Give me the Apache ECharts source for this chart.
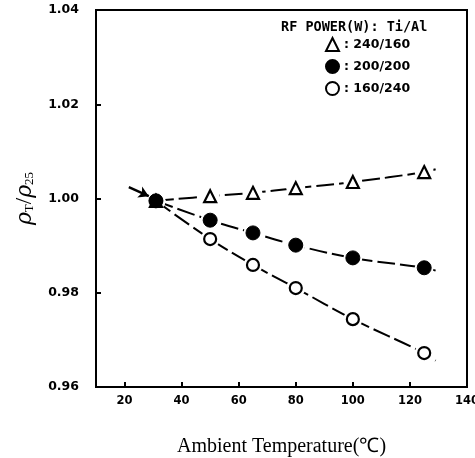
<!DOCTYPE html>
<html><head><meta charset="utf-8">
<script src="https://cdn.jsdelivr.net/npm/echarts@6/dist/echarts.min.js"></script>
<style>html,body{margin:0;padding:0;background:#fff}#c{width:475px;height:458px}</style>
</head><body><div id="c"></div>
<script>
// Data
const temps = [31, 50, 65, 80, 100, 125];
const ti240al160 = [0.9995, 1.0005, 1.0012, 1.0022, 1.0035, 1.0056];
const ti200al200 = [0.9995, 0.9954, 0.9927, 0.9901, 0.9874, 0.9853];
const ti160al240 = [0.9995, 0.9914, 0.9859, 0.9810, 0.9744, 0.9672];
const curveEndT = 129;
const curveEnd = [1.0062, 0.9847, 0.9656];
const xTicks = [20, 40, 60, 80, 100, 120, 140];
const arrowFrom = [21.5, 1.0024];
const arrowTo = [28.5, 1.0005];
const seriesNames = ['240/160', '200/200', '160/240'];

const pts = v => temps.map((t, i) => [t, v[i]]);
const withEnd = (v, k) => pts(v).concat([[curveEndT, curveEnd[k]]]);
const lineStyle = {color: '#000', width: 2, type: [18, 5], opacity: 1};

function lineSeries(v, k) {
  return {type: 'line', data: withEnd(v, k), smooth: 0.4, showSymbol: false, symbol: 'none',
    lineStyle: lineStyle, z: 2, silent: true, legendHoverLink: false};
}
function haloSeries(v) {
  return {type: 'scatter', data: pts(v), symbol: 'circle', symbolSize: 19,
    itemStyle: {color: '#fff', opacity: 1}, z: 3, silent: true};
}

const chart = echarts.init(document.getElementById('c'));
chart.setOption({
  animation: false,
  backgroundColor: '#fff',
  grid: {left: 96, right: 8, top: 10, bottom: 71, show: true, borderColor: '#000', borderWidth: 2,
    outerBoundsMode: 'none', containLabel: false},
  xAxis: {
    type: 'value', min: 10, max: 140,
    name: 'Ambient Temperature(℃)', nameLocation: 'middle', nameGap: 50,
    nameTextStyle: {fontFamily: 'Liberation Serif', fontSize: 20, color: '#000'},
    axisLine: {lineStyle: {color: '#000', width: 2}},
    axisTick: {inside: true, length: 5, lineStyle: {color: '#000', width: 2}, customValues: xTicks},
    axisLabel: {customValues: xTicks, color: '#000', fontFamily: 'DejaVu Sans', fontWeight: 'bold', fontSize: 11.5, margin: 8},
    splitLine: {show: false}
  },
  yAxis: {
    type: 'value', min: 0.96, max: 1.04, interval: 0.02,
    name: '{i|ρ}{s|T}{n|/}{i|ρ}{s|25}', nameLocation: 'middle', nameGap: 60, nameRotate: 90,
    nameTextStyle: {
      color: '#000',
      rich: {
        i: {fontFamily: 'DejaVu Serif', fontStyle: 'italic', fontSize: 22, lineHeight: 26, color: '#000', verticalAlign: 'bottom'},
        n: {fontFamily: 'Liberation Serif', fontSize: 23, lineHeight: 26, color: '#000', verticalAlign: 'bottom'},
        s: {fontFamily: 'Liberation Serif', fontSize: 13, lineHeight: 17, color: '#000', verticalAlign: 'bottom'}
      }
    },
    axisLine: {lineStyle: {color: '#000', width: 2}},
    axisTick: {inside: true, length: 5, lineStyle: {color: '#000', width: 2}},
    axisLabel: {color: '#000', fontFamily: 'DejaVu Sans', fontWeight: 'bold', fontSize: 12.5, margin: 17,
      formatter: v => v.toFixed(2)},
    splitLine: {show: false}
  },
  legend: {
    data: [
      {name: seriesNames[0], icon: 'triangle'},
      {name: seriesNames[1], icon: 'circle'},
      {name: seriesNames[2], icon: 'circle'}
    ],
    orient: 'vertical', left: 320, top: 32, itemWidth: 13, itemHeight: 13, itemGap: 7,
    formatter: n => ': ' + n,
    textStyle: {fontFamily: 'DejaVu Sans', fontWeight: 'bold', fontSize: 12.5, color: '#000'},
    selectedMode: false
  },
  graphic: [{
    type: 'text', left: 281, top: 20,
    style: {text: 'RF POWER(W): Ti/Al', font: 'bold 13.5px "DejaVu Sans Mono"', fill: '#000'}
  }],
  series: [
    lineSeries(ti240al160, 0), lineSeries(ti200al200, 1), lineSeries(ti160al240, 2),
    haloSeries(ti240al160), haloSeries(ti200al200), haloSeries(ti160al240),
    {name: seriesNames[2], type: 'scatter', data: pts(ti160al240), symbol: 'circle', symbolSize: 12,
      itemStyle: {color: '#fff', borderColor: '#000', borderWidth: 2.2, opacity: 1}, z: 4},
    {name: seriesNames[1], type: 'scatter', data: pts(ti200al200), symbol: 'circle', symbolSize: 14,
      itemStyle: {color: '#000', borderColor: '#000', borderWidth: 1, opacity: 1}, z: 5},
    {name: seriesNames[0], type: 'scatter', data: pts(ti240al160), symbol: 'triangle', symbolSize: 12,
      itemStyle: {color: '#fff', borderColor: '#000', borderWidth: 2.2, opacity: 1}, z: 4},
    {type: 'line', data: [], silent: true, z: 6,
      markLine: {silent: true, symbol: ['none', 'arrow'], symbolSize: [9, 10], label: {show: false},
        lineStyle: {color: '#000', width: 2.5, type: 'solid'},
        data: [[{coord: arrowFrom}, {coord: arrowTo}]]}}
  ]
});
</script></body></html>
